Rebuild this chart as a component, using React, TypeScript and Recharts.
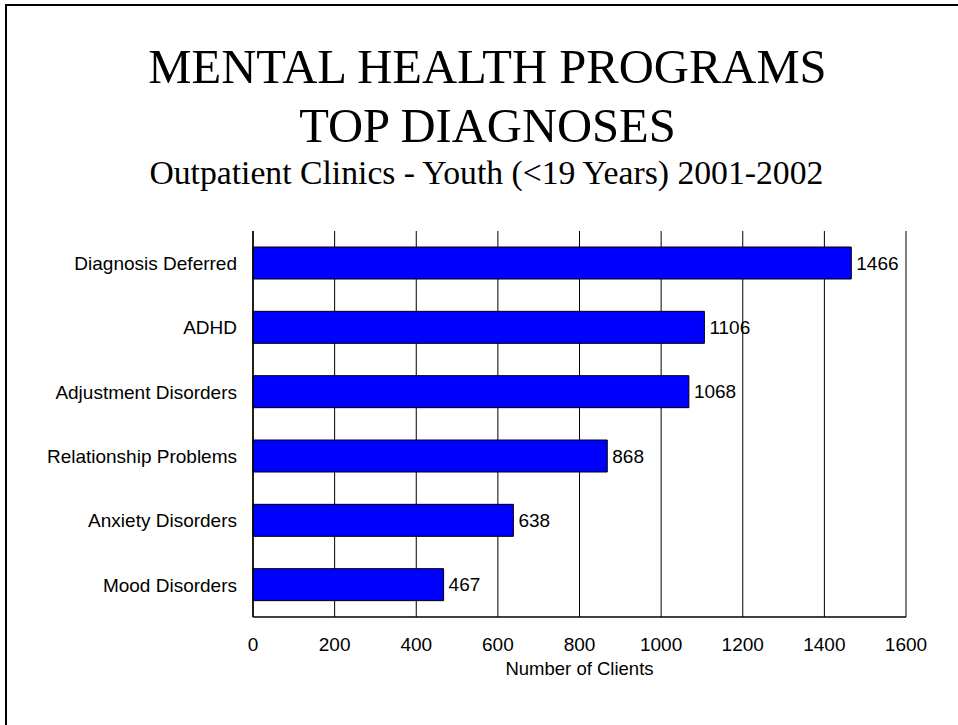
import React from 'react';
import { BarChart, Bar, XAxis, YAxis, CartesianGrid, LabelList } from 'recharts';

const categories = [
  'Diagnosis Deferred',
  'ADHD',
  'Adjustment Disorders',
  'Relationship Problems',
  'Anxiety Disorders',
  'Mood Disorders',
];
const clients = [1466, 1106, 1068, 868, 638, 467];
const xTicks = [0, 200, 400, 600, 800, 1000, 1200, 1400, 1600];

const titleLine1 = 'MENTAL HEALTH PROGRAMS';
const titleLine2 = 'TOP DIAGNOSES';
const subtitle = 'Outpatient Clinics - Youth (<19 Years) 2001-2002';
const xAxisTitle = 'Number of Clients';

const data = categories.map((name, i) => ({ name, value: clients[i] }));

const SANS = '"Liberation Sans", Arial, sans-serif';
const SERIF = '"Liberation Serif", "Times New Roman", serif';

const XTick = (props: any) => {
  const { x, y, payload } = props;
  return (
    <text x={x} y={y} dy={34} textAnchor="middle" fontFamily={SANS} fontSize={19} fill="#000">
      {payload.value}
    </text>
  );
};

const YTick = (props: any) => {
  const { x, y, payload } = props;
  return (
    <text x={x} y={y} dy="0.355em" textAnchor="end" fontFamily={SANS} fontSize={19} fill="#000">
      {payload.value}
    </text>
  );
};

const ValueLabel = (props: any) => {
  const { x, y, width, height, value } = props;
  return (
    <text
      x={x + width + 5}
      y={y + height / 2}
      dy="0.355em"
      textAnchor="start"
      fontFamily={SANS}
      fontSize={19}
      fill="#000"
    >
      {value}
    </text>
  );
};

const AxisTitle = (props: any) => {
  const vb = props.viewBox || {};
  return (
    <text
      x={vb.x + vb.width / 2}
      y={vb.y + 58}
      textAnchor="middle"
      fontFamily={SANS}
      fontSize={18.5}
      fill="#000"
    >
      {xAxisTitle}
    </text>
  );
};

export default function App() {
  return (
    <div style={{ position: 'absolute', left: 0, top: 0, width: 958, height: 725, background: '#fff', overflow: 'hidden' }}>
      <div
        style={{
          position: 'absolute',
          left: 5,
          top: 4,
          width: 960,
          height: 730,
          borderTop: '2px solid #000',
          borderLeft: '2px solid #000',
          boxSizing: 'border-box',
        }}
      />
      <svg width={958} height={200} style={{ position: 'absolute', left: 0, top: 0 }}>
        <text x={487.5} y={83} textAnchor="middle" fontFamily={SERIF} fontSize={48.6} fill="#000">
          {titleLine1}
        </text>
        <text x={487.5} y={142} textAnchor="middle" fontFamily={SERIF} fontSize={48.6} fill="#000">
          {titleLine2}
        </text>
        <text x={486.4} y={184} textAnchor="middle" fontFamily={SERIF} fontSize={33.7} fill="#000">
          {subtitle}
        </text>
      </svg>
      <div style={{ position: 'absolute', left: 0, top: 0 }}>
        <BarChart
          width={958}
          height={725}
          data={data}
          layout="vertical"
          margin={{ top: 231, right: 52, bottom: 48, left: 13 }}
          barCategoryGap="25%"
        >
          <CartesianGrid horizontal={false} vertical={true} stroke="#000" strokeWidth={1} />
          <XAxis
            xAxisId="top"
            orientation="top"
            type="number"
            domain={[0, 1600]}
            ticks={xTicks}
            tick={false}
            tickLine={false}
            axisLine={{ stroke: '#999', strokeWidth: 1 }}
            height={0}
          />
          <XAxis
            type="number"
            domain={[0, 1600]}
            ticks={xTicks}
            interval={0}
            tickLine={false}
            tickSize={0}
            tickMargin={0}
            axisLine={{ stroke: '#000', strokeWidth: 1.5 }}
            tick={<XTick />}
            height={60}
            label={<AxisTitle />}
          />
          <YAxis
            type="category"
            dataKey="name"
            width={240}
            tickLine={false}
            tickSize={0}
            tickMargin={16}
            axisLine={{ stroke: '#000', strokeWidth: 1.5 }}
            tick={<YTick />}
            interval={0}
          />
          <Bar dataKey="value" fill="#0000FF" stroke="#000" strokeWidth={1} barSize={32} isAnimationActive={false}>
            <LabelList dataKey="value" content={<ValueLabel />} />
          </Bar>
        </BarChart>
      </div>
    </div>
  );
}
